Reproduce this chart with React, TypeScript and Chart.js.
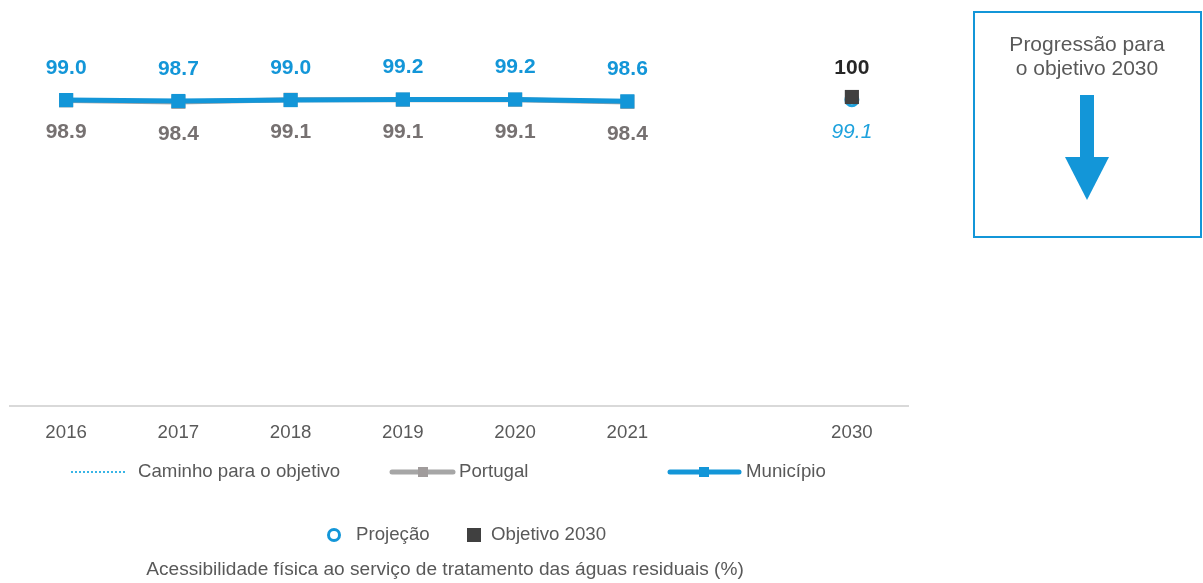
import React, { useEffect, useRef } from "react";
import { Chart, registerables } from "chart.js";

Chart.register(...registerables);

const categories = ["2016", "2017", "2018", "2019", "2020", "2021", "", "2030"];
const municipio = [99.0, 98.7, 99.0, 99.2, 99.2, 98.6, null, null];
const portugal = [98.9, 98.4, 99.1, 99.1, 99.1, 98.4, null, null];
const projecao = [null, null, null, null, null, null, null, 99.1];
const objetivo = [null, null, null, null, null, null, null, 100];

const legendRow1 = ["Caminho para o objetivo", "Portugal", "Município"];
const legendRow2 = ["Projeção", "Objetivo 2030"];
const chartTitle = "Acessibilidade física ao serviço de tratamento das águas residuais (%)";
const boxLines = ["Progressão para", "o objetivo 2030"];

const FONT = '"Liberation Sans", Arial, sans-serif';
const BLUE = "#1396d8";
const LIGHTBLUE = "#1ea2dd";
const GRAY = "#a6a6a6";
const LABELGRAY = "#767171";
const TEXT = "#595959";
const DARK = "#404040";

export default function App() {
  const ref = useRef<HTMLCanvasElement>(null);

  useEffect(() => {
    const canvas = ref.current!;
    const labelsPlugin = {
      id: "customLabels",
      afterDatasetsDraw(chart: any) {
        const ctx = chart.ctx;
        ctx.save();
        ctx.textAlign = "center";
        ctx.textBaseline = "middle";
        chart.data.datasets.forEach((ds: any, i: number) => {
          const meta = chart.getDatasetMeta(i);
          const cfg = ds.labelCfg;
          if (!cfg) return;
          meta.data.forEach((pt: any, j: number) => {
            const v = ds.data[j];
            if (v === null || v === undefined) return;
            ctx.font = cfg.font;
            ctx.fillStyle = cfg.color;
            const txt = cfg.fixed ? v.toFixed(1) : String(v);
            ctx.fillText(txt, pt.x, pt.y + cfg.offset);
          });
        });
        ctx.restore();
      },
      afterDraw(chart: any) {
        const ctx = chart.ctx;
        ctx.save();
        ctx.font = `18.67px ${FONT}`;
        ctx.textBaseline = "middle";
        ctx.textAlign = "left";
        // Legend row 1
        const y1 = 472;
        ctx.fillStyle = "#39b5e6";
        for (let x = 71; x < 127; x += 4) ctx.fillRect(x, y1 - 1, 2, 2);
        ctx.fillStyle = TEXT;
        ctx.fillText(legendRow1[0], 138, y1);
        ctx.strokeStyle = GRAY;
        ctx.lineWidth = 5;
        ctx.lineCap = "round";
        ctx.beginPath();
        ctx.moveTo(392, y1);
        ctx.lineTo(453, y1);
        ctx.stroke();
        ctx.fillStyle = "#a09c9c";
        ctx.fillRect(418, y1 - 5, 10, 10);
        ctx.fillStyle = TEXT;
        ctx.fillText(legendRow1[1], 459, y1);
        ctx.strokeStyle = BLUE;
        ctx.beginPath();
        ctx.moveTo(670, y1);
        ctx.lineTo(739, y1);
        ctx.stroke();
        ctx.fillStyle = BLUE;
        ctx.fillRect(699, y1 - 5, 10, 10);
        ctx.fillStyle = TEXT;
        ctx.fillText(legendRow1[2], 746, y1);
        // Legend row 2
        const y2 = 535;
        ctx.strokeStyle = BLUE;
        ctx.lineWidth = 3;
        ctx.beginPath();
        ctx.arc(334, y2, 5.5, 0, Math.PI * 2);
        ctx.stroke();
        ctx.fillStyle = TEXT;
        ctx.fillText(legendRow2[0], 356, y2);
        ctx.fillStyle = DARK;
        ctx.fillRect(467, y2 - 7, 14, 14);
        ctx.fillStyle = TEXT;
        ctx.fillText(legendRow2[1], 491, y2);
        // title
        ctx.font = `19.1px ${FONT}`;
        ctx.textAlign = "center";
        ctx.fillText(chartTitle, 445, 570);
        // Box
        ctx.strokeStyle = BLUE;
        ctx.lineWidth = 2;
        ctx.strokeRect(974, 12, 227, 225);
        ctx.font = `21px ${FONT}`;
        ctx.fillStyle = TEXT;
        ctx.fillText(boxLines[0], 1087, 45);
        ctx.fillText(boxLines[1], 1087, 69);
        // Arrow
        ctx.fillStyle = BLUE;
        ctx.fillRect(1080, 95, 14, 63);
        ctx.beginPath();
        ctx.moveTo(1065, 157);
        ctx.lineTo(1109, 157);
        ctx.lineTo(1087, 200);
        ctx.closePath();
        ctx.fill();
        ctx.restore();
      },
    };

    const chart = new Chart(canvas, {
      type: "line",
      data: {
        labels: categories,
        datasets: [
          {
            label: "Objetivo 2030",
            data: objetivo,
            showLine: false,
            clip: false,
            pointStyle: "rect",
            pointRadius: 10,
            pointBackgroundColor: DARK,
            pointBorderColor: DARK,
            pointBorderWidth: 0,
            labelCfg: { font: `bold 21px ${FONT}`, color: "#262626", offset: -29, fixed: false },
          } as any,
          {
            label: "Município",
            data: municipio,
            clip: false,
            borderColor: BLUE,
            borderWidth: 5,
            pointStyle: "rect",
            pointRadius: 10,
            pointBackgroundColor: BLUE,
            pointBorderColor: BLUE,
            pointBorderWidth: 0,
            spanGaps: false,
            labelCfg: { font: `bold 21px ${FONT}`, color: BLUE, offset: -32, fixed: true },
          } as any,
          {
            label: "Portugal",
            data: portugal,
            clip: false,
            borderColor: GRAY,
            borderWidth: 5,
            pointStyle: "rect",
            pointRadius: 10,
            pointBackgroundColor: GRAY,
            pointBorderColor: GRAY,
            pointBorderWidth: 0,
            labelCfg: { font: `bold 21px ${FONT}`, color: LABELGRAY, offset: 32, fixed: true },
          } as any,
          {
            label: "Projeção",
            data: projecao,
            showLine: false,
            clip: false,
            pointStyle: "circle",
            pointRadius: 6,
            pointBackgroundColor: "#ffffff",
            pointBorderColor: LIGHTBLUE,
            pointBorderWidth: 3,
            labelCfg: { font: `italic 21px ${FONT}`, color: LIGHTBLUE, offset: 32, fixed: true },
          } as any,
        ],
      },
      options: {
        responsive: false,
        animation: false,
        devicePixelRatio: 1,
        layout: { padding: { left: 10, right: 295, top: 97, bottom: 123 } },
        plugins: { legend: { display: false }, tooltip: { enabled: false } },
        scales: {
          x: {
            offset: true,
            grid: { display: false, drawTicks: false },
            border: { display: true, color: "#d9d9d9", width: 2 },
            ticks: { color: TEXT, font: { family: FONT, size: 18.67 }, padding: 16, autoSkip: false, maxRotation: 0 },
          },
          y: { display: false, min: 0, max: 100 },
        },
      },
      plugins: [labelsPlugin],
    });
    return () => chart.destroy();
  }, []);

  return (
    <div style={{ position: "absolute", left: 0, top: 0, width: 1203, height: 583, background: "#fff" }}>
      <canvas ref={ref} width={1203} height={583} style={{ width: 1203, height: 583, display: "block" }} />
    </div>
  );
}
